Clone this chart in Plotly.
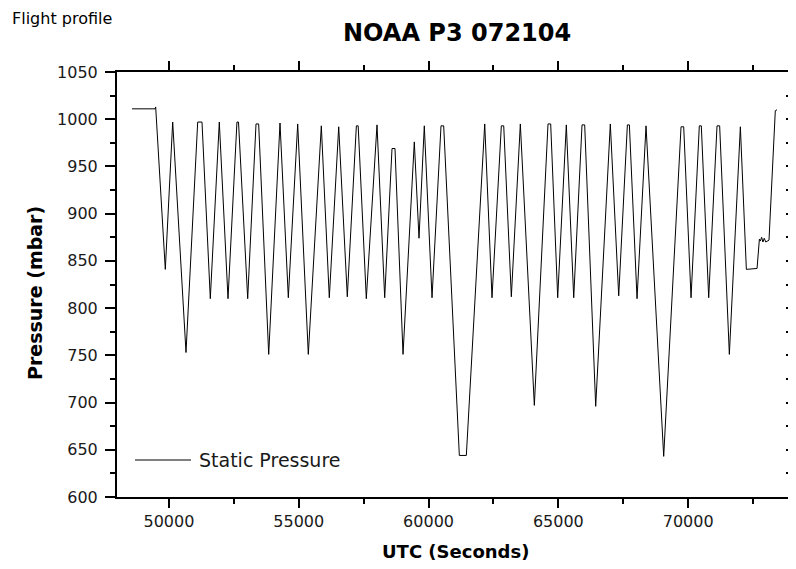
import plotly.graph_objects as go

# UTC seconds and static pressure (mbar)
utc = [
    48578, 49470, 49490, 49861, 50145, 50658, 51108, 51274, 51594, 51941,
    52276, 52620, 52680, 53034, 53354, 53457, 53843, 54279, 54599, 54960,
    55369, 55870, 56178, 56540, 56871, 57220, 57290, 57603, 58015, 58311,
    58593, 58708, 59017, 59452, 59633, 59837, 60134, 60480, 60584, 61186,
    61456, 62164, 62445, 62804, 62896, 63189, 63536, 64075, 64602, 64705,
    64975, 65307, 65592, 65912, 66015, 66439, 67002, 67325, 67659, 67736,
    68031, 68377, 69058, 69726, 69829, 70111, 70430, 70507, 70791, 71112,
    71214, 71587, 72011, 72242, 72654, 72744, 72780, 72830, 72880, 72930,
    72990, 73114, 73357, 73423,
]
pressure = [
    1011, 1011, 1013, 841, 997, 753, 997, 997, 810, 997,
    810, 997, 997, 810, 995, 995, 751, 996, 811, 995,
    751, 993, 811, 992, 812, 993, 993, 810, 994, 811,
    969, 969, 751, 976, 874, 993, 811, 993, 993, 644,
    644, 995, 811, 993, 993, 812, 995, 697, 995, 995,
    811, 994, 811, 994, 994, 696, 995, 813, 994, 994,
    810, 993, 643, 992, 992, 811, 993, 993, 811, 993,
    993, 751, 992, 841, 842, 873, 871, 875, 870, 874,
    870, 872, 1009, 1010,
]
x_ticks = [50000, 55000, 60000, 65000, 70000]
y_ticks = [600, 650, 700, 750, 800, 850, 900, 950, 1000, 1050]

FONT = "DejaVu Sans, Arial, sans-serif"
W, H = 796, 569
OFF = 8  # the page body has an 8px margin, so pull everything back by that
L, T = 117 - OFF, 72 - OFF
R = W - (792 - OFF)
B = H - (497 - OFF)
PW, PH = W - L - R, H - T - B


def px(x, y):
    """page pixel position -> paper coordinates of the plot area"""
    return (x - OFF - L) / PW, (H - B - (y - OFF)) / PH


fig = go.Figure()
fig.add_trace(
    go.Scatter(
        x=utc, y=pressure, mode="lines", name="Static Pressure",
        line={"color": "black", "width": 1}, showlegend=False,
    )
)
# empty trace so the top / right frame axes get drawn
fig.add_trace(
    go.Scatter(x=[None], y=[None], xaxis="x2", yaxis="y2",
               showlegend=False, hoverinfo="skip")
)

frame = dict(
    showline=True, linewidth=2, linecolor="black", showgrid=False,
    zeroline=False, tickwidth=2, tickcolor="black", automargin=False,
    tickfont={"family": FONT, "size": 16, "color": "#1a1a1a"},
)
fig.update_layout(
    width=W, height=H,
    margin={"l": L, "r": R, "t": T, "b": B},
    paper_bgcolor="white", plot_bgcolor="white",
    xaxis=dict(
        frame, range=[48000, 74000], tickvals=x_ticks, tickformat="d",
        ticks="outside", ticklen=9,
        minor={"dtick": 2500, "tick0": 0, "ticks": "outside", "ticklen": 5,
               "tickwidth": 2, "tickcolor": "black"},
    ),
    yaxis=dict(
        frame, range=[600, 1050], tickvals=y_ticks, tickformat="d",
        ticks="outside", ticklen=10, ticklabelstandoff=4,
        minor={"dtick": 25, "tick0": 0, "ticks": "outside", "ticklen": 5,
               "tickwidth": 2, "tickcolor": "black"},
    ),
    xaxis2=dict(
        frame, overlaying="x", side="top", anchor="y", range=[48000, 74000],
        tickvals=x_ticks, ticks="outside", ticklen=9, showticklabels=False,
        minor={"dtick": 2500, "tick0": 0, "ticks": "outside", "ticklen": 5,
               "tickwidth": 2, "tickcolor": "black"},
    ),
    yaxis2=dict(
        frame, overlaying="y", side="right", anchor="x", range=[600, 1050],
        dtick=25, tick0=0, ticks="inside", ticklen=6, showticklabels=False,
    ),
)

# hand-drawn legend entry, as in the original
lx0, ly = px(135, 460)
lx1, _ = px(191, 460)
fig.add_shape(type="line", xref="paper", yref="paper",
              x0=lx0, x1=lx1, y0=ly, y1=ly,
              line={"color": "black", "width": 1})
tx, _ = px(197, 460)
fig.add_annotation(text="Static Pressure", xref="paper", yref="paper",
                   x=tx, y=ly, xanchor="left", yanchor="middle",
                   showarrow=False,
                   font={"family": FONT, "size": 19, "color": "#1a1a1a"})

texts = [
    ("<b>NOAA P3 072104</b>", 457, 33, "center", 24, 0),
    ("Flight profile", 10, 18, "left", 16, 0),
    ("<b>UTC (Seconds)</b>", 455, 551, "center", 18, 0),
    ("<b>Pressure (mbar)</b>", 35, 293, "center", 19, -90),
]
for text, x, y, anchor, size, angle in texts:
    ax, ay = px(x, y)
    fig.add_annotation(text=text, xref="paper", yref="paper", x=ax, y=ay,
                       xanchor=anchor, yanchor="middle", textangle=angle,
                       showarrow=False,
                       font={"family": FONT, "size": size, "color": "black"})

fig.write_html("out.html")
